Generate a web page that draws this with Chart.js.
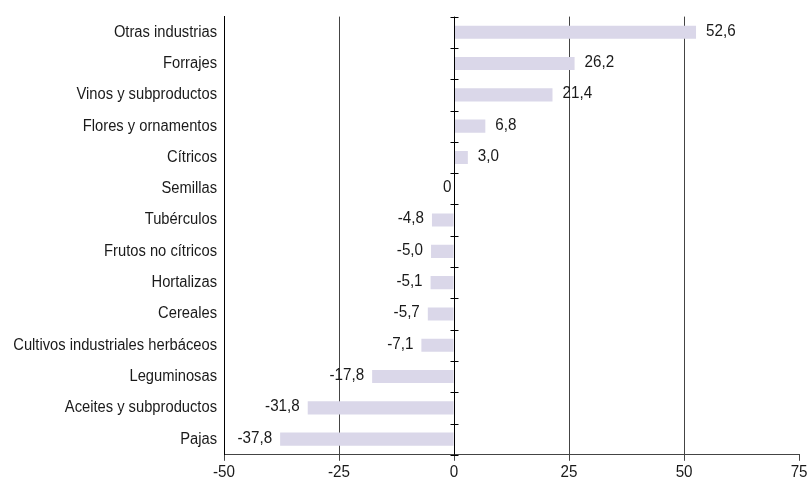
<!DOCTYPE html>
<html>
<head>
<meta charset="utf-8">
<script src="https://cdn.jsdelivr.net/npm/chart.js@4/dist/chart.umd.min.js"></script>
<style>
  html, body { margin: 0; padding: 0; background: #fff; }
  #wrap { width: 810px; height: 484px; }
</style>
</head>
<body>
<div id="wrap"><canvas id="c" width="810" height="484"></canvas></div>
<script>
const categories = [
  "Otras industrias", "Forrajes", "Vinos y subproductos", "Flores y ornamentos",
  "Cítricos", "Semillas", "Tubérculos", "Frutos no cítricos", "Hortalizas",
  "Cereales", "Cultivos industriales herbáceos", "Leguminosas",
  "Aceites y subproductos", "Pajas"
];
const values = [52.6, 26.2, 21.4, 6.8, 3.0, 0, -4.8, -5.0, -5.1, -5.7, -7.1, -17.8, -31.8, -37.8];
const xTicks = [-50, -25, 0, 25, 50, 75];

const FONT = "'Liberation Sans', Arial, sans-serif";
const TEXT = '#1a1a1a';

function fmt(v) {
  if (v === 0) return '0';
  return v.toFixed(1).replace('.', ',');
}

// condensed look: compress text horizontally when drawn
const canvas = document.getElementById('c');
const ctx2d = canvas.getContext('2d');
const origFillText = ctx2d.fillText;
ctx2d.fillText = function (text, x, y, maxW) {
  const s = /[A-Za-zÀ-ÿ]/.test(String(text)) ? 0.92 : 0.95;
  this.save();
  this.translate(x, y);
  this.scale(s, 1);
  if (maxW !== undefined) origFillText.call(this, text, 0, 0, maxW / s);
  else origFillText.call(this, text, 0, 0);
  this.restore();
};

const zeroAxisPlugin = {
  id: 'zeroAxis',
  afterDatasetsDraw(chart) {
    const ctx = chart.ctx;
    const x = chart.scales.x, y = chart.scales.y;
    const x0 = Math.round(x.getPixelForValue(0)) + 0.5;
    const area = chart.chartArea;
    ctx.save();
    ctx.strokeStyle = '#000';
    ctx.lineWidth = 1;
    ctx.beginPath();
    ctx.moveTo(x0, area.top);
    ctx.lineTo(x0, area.bottom);
    const n = categories.length;
    const step = (y.getPixelForValue(1) - y.getPixelForValue(0));
    for (let i = 0; i <= n; i++) {
      const py = Math.round(y.getPixelForValue(0) - step / 2 + i * step) + 0.5;
      ctx.moveTo(x0 - 4, py);
      ctx.lineTo(x0 + 4, py);
    }
    ctx.stroke();

    // value labels
    ctx.font = '16px ' + FONT;
    ctx.fillStyle = TEXT;
    ctx.textBaseline = 'middle';
    const meta = chart.getDatasetMeta(0);
    meta.data.forEach((bar, i) => {
      const v = values[i];
      const py = bar.y - 1;
      if (v > 0) {
        ctx.textAlign = 'left';
        ctx.fillText(fmt(v), bar.x + 10, py);
      } else if (v < 0) {
        ctx.textAlign = 'right';
        ctx.fillText(fmt(v), bar.x - 8, py);
      } else {
        ctx.textAlign = 'right';
        ctx.fillText(fmt(v), x0 - 3, py);
      }
    });
    ctx.restore();
  }
};

new Chart(canvas, {
  type: 'bar',
  data: {
    labels: categories,
    datasets: [{
      data: values,
      backgroundColor: '#dad7e9',
      borderWidth: 0,
      barPercentage: 0.42,
      categoryPercentage: 1.0
    }]
  },
  options: {
    indexAxis: 'y',
    responsive: false,
    animation: false,
    events: [],
    layout: { padding: { top: 13, right: 8, left: 0, bottom: 0 } },
    plugins: { legend: { display: false }, tooltip: { enabled: false } },
    scales: {
      x: {
        min: -50, max: 75,
        afterBuildTicks(scale) { scale.ticks = xTicks.map(v => ({ value: v })); },
        ticks: {
          color: TEXT,
          font: { family: FONT, size: 16 },
          padding: 2,
          maxRotation: 0,
          callback: (v) => String(v)
        },
        grid: {
          drawOnChartArea: true,
          drawTicks: true,
          tickLength: 6,
          tickColor: '#444',
          color: (c) => {
            const v = c.tick && c.tick.value;
            if (v === -25 || v === 25 || v === 50) return '#444';
            return 'rgba(0,0,0,0)';
          },
          lineWidth: 1
        },
        border: { display: true, color: '#444', width: 1 }
      },
      y: {
        afterFit(scale) { scale.width = 224; },
        ticks: {
          color: TEXT,
          font: { family: FONT, size: 16 },
          padding: 7
        },
        grid: { display: false, drawTicks: false },
        border: { display: true, color: '#000', width: 1 }
      }
    }
  },
  plugins: [zeroAxisPlugin]
});
</script>
</body>
</html>
